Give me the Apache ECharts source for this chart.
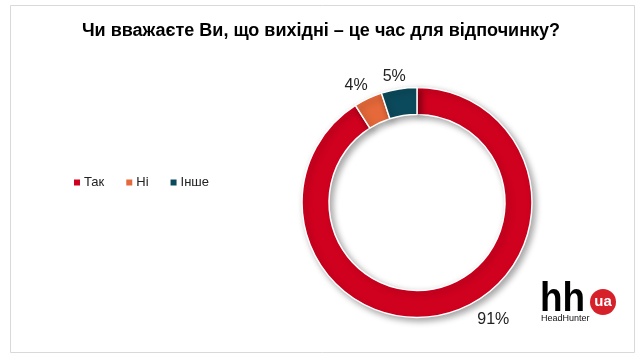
<!DOCTYPE html>
<html><head><meta charset="utf-8">
<script src="https://cdn.jsdelivr.net/npm/echarts@6/dist/echarts.min.js"></script>
<style>html,body{margin:0;padding:0;background:#fff}#c{width:642px;height:361px}</style>
</head><body><div id="c"></div>
<script>
const title = "Чи вважаєте Ви, що вихідні – це час для відпочинку?";
const categories = ["Так", "Ні", "Інше"];
const values = [91, 4, 5];
const colors = ["#D0011F", "#E5693A", "#0B4A5C"];

const chart = echarts.init(document.getElementById('c'));
chart.setOption({
  animation: false,
  backgroundColor: '#fff',
  title: {
    text: title, left: 'center', top: 17,
    textStyle: {fontFamily: 'Liberation Sans', fontWeight: 'bold', fontSize: 18, color: '#000'}
  },
  legend: {
    left: 67, top: 171, orient: 'horizontal',
    itemWidth: 8, itemHeight: 8, itemGap: 20, icon: 'rect',
    textStyle: {fontFamily: 'Liberation Sans', fontSize: 13, color: '#222', padding: [0,0,0,-2]},
    data: categories
  },
  graphic: [
    {type: 'rect', shape: {x: 10.5, y: 5.5, width: 624, height: 347}, style: {fill: 'none', stroke: '#d9d9d9', lineWidth: 1}, silent: true},
    {type: 'text', x: 540, y: 279, scaleX: 0.9, style: {text: 'hh', font: 'bold 41px Liberation Sans', fill: '#000'}},
    {type: 'circle', shape: {cx: 603, cy: 302, r: 13}, style: {fill: '#D6202A'}},
    {type: 'text', x: 603, y: 302, style: {text: 'ua', font: 'bold 15px Liberation Sans', fill: '#fff', align: 'center', verticalAlign: 'middle'}},
    {type: 'text', x: 541, y: 314, style: {text: 'HeadHunter', font: '9px Liberation Sans', fill: '#111'}}
  ],
  series: [{
    type: 'pie',
    center: [417, 202.5],
    radius: [88, 115],
    startAngle: 90,
    clockwise: true,
    avoidLabelOverlap: false,
    itemStyle: {borderColor: '#fff', borderWidth: 1.5, shadowBlur: 6, shadowOffsetX: 3, shadowOffsetY: 3, shadowColor: 'rgba(0,0,0,0.35)'},
    label: {
      show: true, position: 'outside', formatter: '{c}%',
      fontFamily: 'Liberation Sans', fontSize: 16, color: '#222'
    },
    labelLine: {show: false, length: 8, length2: 0},
    labelLayout: function (p) {
      if (p.dataIndex === 0) return {dx: 21, dy: -1};
      if (p.dataIndex === 1) return {dx: 8, dy: -6};
      return {dx: 13, dy: -4};
    },
    data: categories.map((c, i) => ({name: c, value: values[i], itemStyle: {color: colors[i]}}))
  }]
});
</script></body></html>
